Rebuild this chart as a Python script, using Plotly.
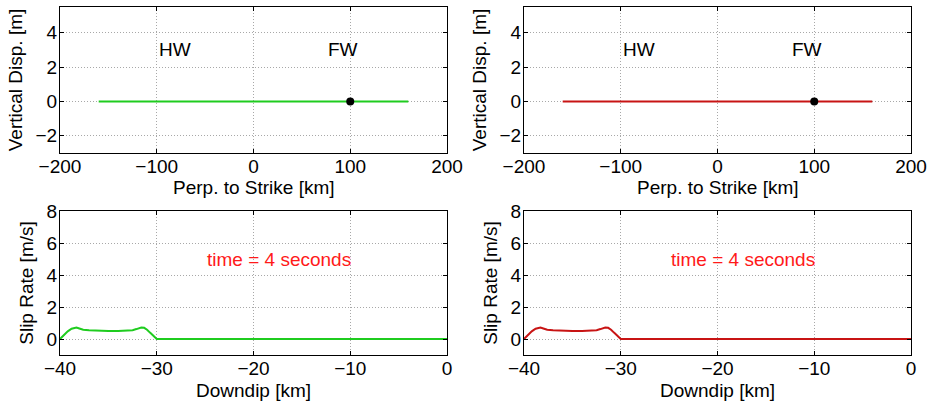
import plotly.graph_objects as go

# Surface profile (perpendicular to strike) at t = 4 s
profile_x = [-160, 160]
profile_green_y = [0, 0]
profile_red_y = [0, 0]
station_x = [100]
station_y = [0]

# Slip rate along downdip distance at t = 4 s
dip_x = [-40, -39.6, -39.2, -38.8, -38.5, -38.3, -38.0, -37.6, -37.0, -36.0,
         -35.0, -34.0, -33.0, -32.5, -32.1, -31.8, -31.6, -31.3, -31.0, -30.7,
         -30.4, -30.1, -30.0, -25.0, -20.0, -10.0, 0.0]
slip_y = [0.0, 0.25, 0.48, 0.64, 0.71, 0.72, 0.66, 0.58, 0.54, 0.51,
          0.50, 0.50, 0.52, 0.55, 0.62, 0.70, 0.72, 0.70, 0.58, 0.40,
          0.22, 0.04, 0.0, 0.0, 0.0, 0.0, 0.0]

top_xticks = [-200, -100, 0, 100, 200]
top_yticks = [-2, 0, 2, 4]
bot_xticks = [-40, -30, -20, -10, 0]
bot_yticks = [0, 2, 4, 6, 8]

GREEN = "#1fcc1f"
RED = "#c81414"
FONT = "Liberation Sans, Arial, Helvetica, sans-serif"
FS = 19

W, H = 930, 403
def px_x(a, b):
    return [a / W, b / W]
def px_y(top, bottom):
    return [1 - bottom / H, 1 - top / H]

fig = go.Figure()

panels = [
    # (xaxis, yaxis, x-domain px, y-domain px)
    ("x", "y", (60, 447), (7, 153)),
    ("x2", "y2", (524, 911), (7, 153)),
    ("x3", "y3", (60, 447), (211, 355)),
    ("x4", "y4", (524, 911), (211, 355)),
]

fig.add_trace(go.Scatter(x=profile_x, y=profile_green_y, mode="lines",
                         line=dict(color=GREEN, width=2), xaxis="x", yaxis="y"))
fig.add_trace(go.Scatter(x=station_x, y=station_y, mode="markers",
                         marker=dict(color="black", size=8), xaxis="x", yaxis="y"))
fig.add_trace(go.Scatter(x=profile_x, y=profile_red_y, mode="lines",
                         line=dict(color=RED, width=2), xaxis="x2", yaxis="y2"))
fig.add_trace(go.Scatter(x=station_x, y=station_y, mode="markers",
                         marker=dict(color="black", size=8), xaxis="x2", yaxis="y2"))
fig.add_trace(go.Scatter(x=dip_x, y=slip_y, mode="lines",
                         line=dict(color=GREEN, width=2), xaxis="x3", yaxis="y3"))
fig.add_trace(go.Scatter(x=dip_x, y=slip_y, mode="lines",
                         line=dict(color=RED, width=2), xaxis="x4", yaxis="y4"))

axis_common = dict(
    showline=True, linecolor="black", linewidth=1.3, mirror="ticks",
    ticks="inside", ticklen=4, tickcolor="black", automargin=False,
    showgrid=True, gridcolor="#a8a8a8", griddash="1px,2px", gridwidth=1,
    zeroline=False, tickfont=dict(family=FONT, size=FS, color="black"),
)

layout = dict(
    width=W, height=H, margin=dict(l=0, r=0, t=0, b=0),
    paper_bgcolor="white", plot_bgcolor="white", showlegend=False,
    font=dict(family=FONT, size=FS, color="black"),
)

for i, (xa, ya, (xl, xr), (yt, yb)) in enumerate(panels):
    top = i < 2
    xkey = "xaxis" if xa == "x" else "xaxis" + xa[1:]
    ykey = "yaxis" if ya == "y" else "yaxis" + ya[1:]
    layout[xkey] = dict(
        axis_common, domain=px_x(xl, xr), anchor=ya,
        range=[-200, 200] if top else [-40, 0],
        tickvals=top_xticks if top else bot_xticks,
        ticktext=[str(v).replace("-", "\u2212") for v in (top_xticks if top else bot_xticks)],
        ticklabelstandoff=-4,
    )
    layout[ykey] = dict(
        axis_common, domain=px_y(yt, yb), anchor=xa,
        range=[-3, 5.5] if top else [-1, 8],
        tickvals=top_yticks if top else bot_yticks,
        ticktext=[str(v).replace("-", "\u2212") for v in (top_yticks if top else bot_yticks)],
        ticklabelstandoff=-2,
        title=dict(text="Vertical Disp. [m]" if top else "Slip Rate [m/s]",
                   font=dict(family=FONT, size=FS), standoff=7),
    )

fig.update_layout(**layout)

# x-axis titles placed just under each panel's tick labels
for i, (xa, ya, (xl, xr), (yt, yb)) in enumerate(panels):
    top = i < 2
    fig.add_annotation(
        x=(xl + xr) / 2 / W, y=1 - yb / H, xref="paper", yref="paper",
        text="Perp. to Strike [km]" if top else "Downdip [km]",
        showarrow=False, xanchor="center", yanchor="middle",
        yshift=-35, font=dict(family=FONT, size=FS, color="black"))

for xa, ya in [("x", "y"), ("x2", "y2")]:
    fig.add_annotation(x=-100, y=3, xref=xa, yref=ya, text="HW", showarrow=False,
                       xanchor="left", yanchor="middle",
                       font=dict(family=FONT, size=FS, color="black"))
    fig.add_annotation(x=75, y=3, xref=xa, yref=ya, text="FW", showarrow=False,
                       xanchor="left", yanchor="middle",
                       font=dict(family=FONT, size=FS, color="black"))
for xa, ya in [("x3", "y3"), ("x4", "y4")]:
    fig.add_annotation(x=-25, y=5, xref=xa, yref=ya, text="time = 4 seconds",
                       showarrow=False, xanchor="left", yanchor="middle",
                       font=dict(family=FONT, size=FS, color="#ff1a1a"))

fig.write_html("out.html")
